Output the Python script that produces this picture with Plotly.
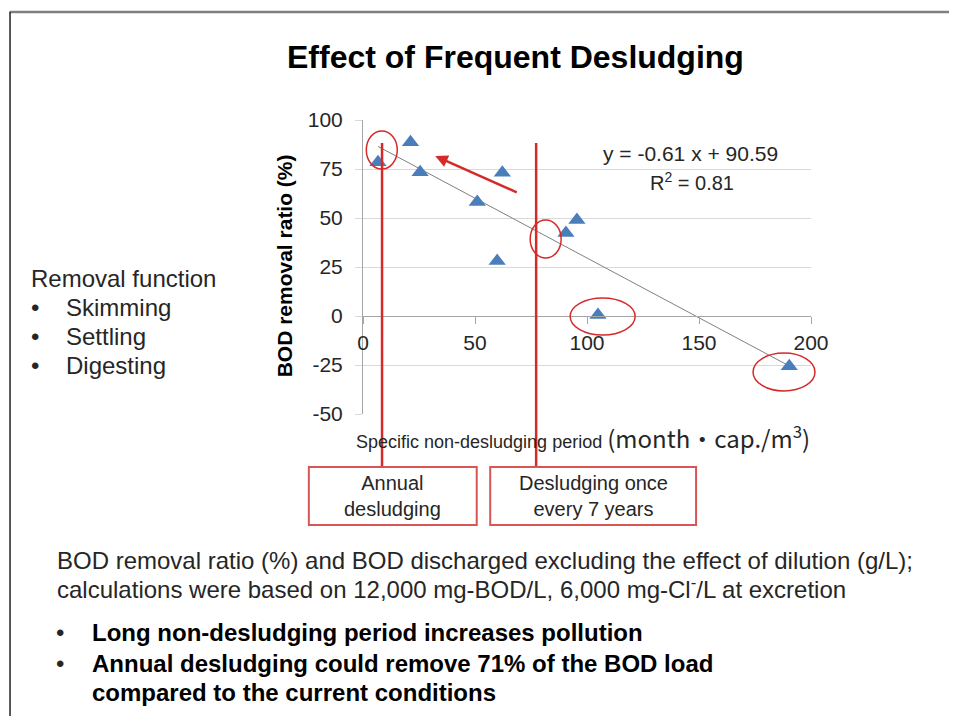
import plotly.graph_objects as go

# ---- data ----
period = [6.7, 21.2, 25.5, 51.0, 62.2, 59.9, 90.6, 95.5, 104.9, 190.3]
bod_removal = [78.4, 88.7, 73.3, 58.2, 73.1, 28.0, 42.3, 49.0, 0.5, -25.7]
trend_slope = -0.61
trend_intercept = 90.59
trend_r2 = 0.81
desludge_marks = [8.5, 77.3]          # annual / once every 7 years
box_labels = ["Annual<br>desludging", "Desludging once<br>every 7 years"]
x_ticks = [0, 50, 100, 150, 200]
y_ticks = [-50, -25, 0, 25, 50, 75, 100]

# ---- layout geometry (screen pixels of the reference; page body has an 8px margin) ----
OFF = 8
FW, FH = 957 - 2 * OFF, 724 - 2 * OFF
L, R, T, B = 362.7, 811.0, 120.0, 414.0


def fx(px):
    return (px - L) / (R - L)


def fy(py):
    return (B - py) / (B - T)


FONT = "Liberation Sans, Arial, sans-serif"
RED = "#D42A2A"
BOXRED = "#D95555"
TXT = "#262626"

fig = go.Figure()

# trend line
tx = [min(period), max(period)]
ty = [trend_slope * v + trend_intercept for v in tx]
fig.add_trace(go.Scatter(x=tx, y=ty, mode="lines",
                         line=dict(color="#808080", width=1),
                         hoverinfo="skip", showlegend=False))
# points
fig.add_trace(go.Scatter(x=period, y=bod_removal, mode="markers",
                         marker=dict(symbol="triangle-up", size=15, color="#4A7EBB"),
                         showlegend=False))

shapes = []
# slide border
shapes.append(dict(type="line", xref="paper", yref="paper",
                   x0=fx(9), x1=fx(960), y0=fy(12), y1=fy(12),
                   line=dict(color="#7F7F7F", width=2.5)))
shapes.append(dict(type="line", xref="paper", yref="paper",
                   x0=fx(9.5), x1=fx(9.5), y0=fy(12), y1=fy(730),
                   line=dict(color="#222222", width=1.5)))
# red vertical marks
for m in desludge_marks:
    shapes.append(dict(type="line", xref="x", yref="paper",
                       x0=m, x1=m, y0=fy(467), y1=fy(143),
                       line=dict(color=RED, width=2.5)))
# boxes
for (x0, x1) in [(308.5, 476.5), (490.0, 696.0)]:
    shapes.append(dict(type="rect", xref="paper", yref="paper",
                       x0=fx(x0), x1=fx(x1), y0=fy(525), y1=fy(467),
                       line=dict(color=BOXRED, width=2), fillcolor="rgba(0,0,0,0)"))
# ellipses
for (x0, x1, y0, y1) in [(366, 397, 131, 169), (530, 561, 220, 258),
                         (570, 635, 298, 335), (753, 815, 353, 391)]:
    shapes.append(dict(type="circle", xref="paper", yref="paper",
                       x0=fx(x0), x1=fx(x1), y0=fy(y1), y1=fy(y0),
                       line=dict(color=RED, width=1.5)))

ann = []


def text(s, px, py, size, xanchor="left", bold=False, color=TXT, angle=0):
    if bold:
        s = "<b>" + s + "</b>"
    ann.append(dict(text=s, xref="paper", yref="paper", x=fx(px), y=fy(py),
                    xanchor=xanchor, yanchor="middle", showarrow=False,
                    textangle=angle,
                    font=dict(family=FONT, size=size, color=color)))


text("Effect of Frequent Desludging", 515, 57, 32, "center", bold=True, color="#000000")
text(f"y = {trend_slope:.2f} x + {trend_intercept:.2f}", 690, 153, 21, "center")
text(f"R<sup>2</sup> = {trend_r2:.2f}", 692, 181, 20, "center")
text("BOD removal ratio (%)", 284, 266, 21, "center", bold=True, color="#000000", angle=-90)
text("Specific non-desludging period <span style='font-family:Noto Sans CJK JP;font-size:24px'>(month・cap./m<sup>3</sup>)</span>",
     354, 437, 18)

text("Removal function", 28, 278, 24)
for i, s in enumerate(["Skimming", "Settling", "Digesting"]):
    text("•", 28, 307 + 29 * i, 24)
    text(s, 64, 307 + 29 * i, 24)

for cx, lab in zip([392.5, 593.0], box_labels):
    ann.append(dict(text=lab, xref="paper", yref="paper", x=fx(cx), y=fy(496),
                    xanchor="center", yanchor="middle", showarrow=False,
                    font=dict(family=FONT, size=20, color=TXT)))

text("BOD removal ratio (%) and BOD discharged excluding the effect of dilution (g/L);", 54, 560, 24)
text("calculations were based on 12,000 mg-BOD/L, 6,000 mg-Cl<sup>-</sup>/L at excretion", 54, 588, 24)
text("•", 53, 632, 24)
text("Long non-desludging period increases pollution", 90, 632, 24, bold=True, color="#000000")
text("•", 53, 663, 24)
text("Annual desludging could remove 71% of the BOD load", 90, 663, 24, bold=True, color="#000000")
text("compared to the current conditions", 90, 692, 24, bold=True, color="#000000")

# red arrow
ann.append(dict(text="", xref="paper", yref="paper", x=fx(435), y=fy(156),
                ax=83, ay=37, showarrow=True, arrowhead=2, arrowsize=1,
                arrowwidth=2.5, arrowcolor=RED))

fig.update_layout(
    width=FW, height=FH,
    margin=dict(l=L - OFF, r=FW - (R - OFF), t=T - OFF, b=FH - (B - OFF), autoexpand=False),
    paper_bgcolor="white", plot_bgcolor="white",
    font=dict(family=FONT, size=21, color=TXT),
    shapes=shapes, annotations=ann,
    xaxis=dict(range=[0, 200], tickvals=x_ticks, ticktext=[str(v) for v in x_ticks],
               showgrid=False, zeroline=False,
               showline=True, linecolor="#A6A6A6", linewidth=1,
               ticks="outside", ticklen=7, tickcolor="#A6A6A6", ticklabelstandoff=1,
               anchor="free", position=50 / 150,
               tickfont=dict(family=FONT, size=21, color=TXT)),
    yaxis=dict(range=[-50, 100], tickvals=y_ticks, ticktext=[str(v) for v in y_ticks],
               showgrid=True, gridcolor="#D9D9D9",
               gridwidth=1, zeroline=False, showline=True, linecolor="#A6A6A6",
               ticks="outside", ticklen=7, tickcolor="#D9D9D9", ticklabelstandoff=8,
               tickfont=dict(family=FONT, size=21, color=TXT)),
)

fig.write_html("out.html")
